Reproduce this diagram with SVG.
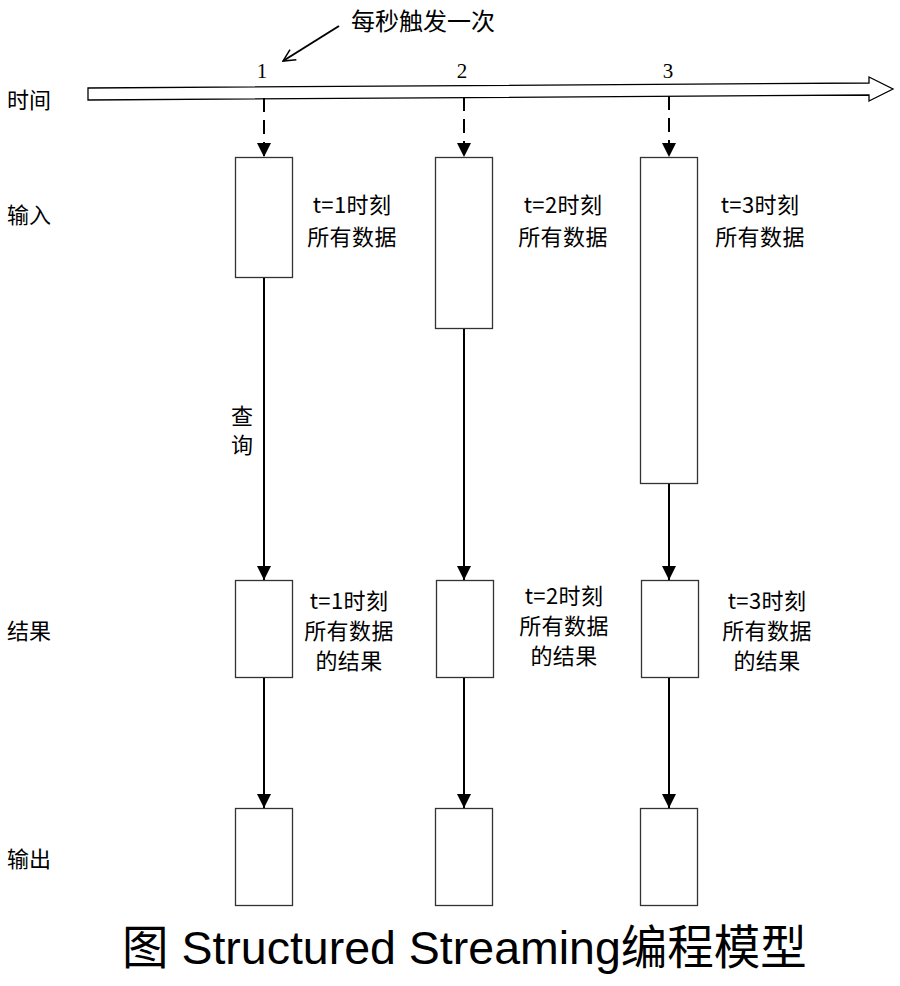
<svg xmlns="http://www.w3.org/2000/svg" width="900" height="986" viewBox="0 0 900 986">
  <defs>
    <style>
      .box { fill: #ffffff; stroke: #333333; stroke-width: 1.3; }
      .conn { stroke: #000000; stroke-width: 2; fill: none; }
      .dash { stroke-dasharray: 14 8; }
      .lbl { font-family: "Noto Sans CJK SC", "Liberation Sans", sans-serif; font-size: 22px; fill: #000000; }
      .desc { font-family: "Noto Sans CJK SC", "Liberation Sans", sans-serif; font-size: 22px; fill: #000000; text-anchor: middle; letter-spacing: 0.4px; }
      .num { font-family: "Liberation Serif", serif; font-size: 21px; fill: #000000; text-anchor: middle; }
      .serif { font-family: "Liberation Serif", "Noto Sans CJK SC", serif; font-size: 22px; fill: #000000; text-anchor: middle; }
      .cap { font-family: "Liberation Sans", "Noto Sans CJK SC", sans-serif; font-size: 46.5px; fill: #000000; }
    </style>
    <marker id="ah" markerUnits="userSpaceOnUse" markerWidth="14" markerHeight="14" refX="14" refY="7" orient="auto" viewBox="0 0 14 14">
      <path d="M0,0 L14,7 L0,14 z" fill="#000000"/>
    </marker>
    <marker id="open" markerUnits="userSpaceOnUse" markerWidth="14" markerHeight="14" refX="13" refY="7" orient="auto" viewBox="0 0 14 14">
      <path d="M1,1 L13,7 L1,13" fill="none" stroke="#000000" stroke-width="1.5"/>
    </marker>
  </defs>

  <rect x="0" y="0" width="900" height="986" fill="#ffffff"/>

  <!-- Row labels -->
  <g id="row-labels">
    <text class="lbl" x="7" y="108">时间</text>
    <text class="lbl" x="7" y="223">输入</text>
    <text class="lbl" x="7" y="639">结果</text>
    <text class="lbl" x="7" y="867">输出</text>
  </g>

  <!-- Timeline arrow -->
  <g id="timeline">
    <polygon points="88,88 869,83 869,77 893,89 869,101 869,95 88,100" fill="#ffffff" stroke="#000000" stroke-width="1.3" stroke-linejoin="miter"/>
    <text class="num" x="262" y="78">1</text>
    <text class="num" x="462" y="78">2</text>
    <text class="num" x="668" y="78">3</text>
  </g>

  <!-- Annotation -->
  <g id="annotation">
    <text class="lbl" x="351" y="30" style="font-size:24px">每秒触发一次</text>
  </g>

  <!-- Input nodes -->
  <g id="input-1">
    <rect class="box" x="235.5" y="157.5" width="57" height="120"/>
    <text class="desc" x="352" y="213">t=1时刻</text>
    <text class="desc" x="352" y="245">所有数据</text>
  </g>
  <g id="input-2">
    <rect class="box" x="435.5" y="157.5" width="57" height="171"/>
    <text class="desc" x="563" y="213">t=2时刻</text>
    <text class="desc" x="563" y="245">所有数据</text>
  </g>
  <g id="input-3">
    <rect class="box" x="640.5" y="157.5" width="57" height="326"/>
    <text class="desc" x="760" y="213">t=3时刻</text>
    <text class="desc" x="760" y="245">所有数据</text>
  </g>

  <!-- Result nodes -->
  <g id="result-1">
    <rect class="box" x="235.5" y="580.5" width="57" height="97"/>
    <text class="desc" x="349" y="609">t=1时刻</text>
    <text class="desc" x="349" y="639">所有数据</text>
    <text class="desc" x="349" y="669">的结果</text>
  </g>
  <g id="result-2">
    <rect class="box" x="436.5" y="580.5" width="57" height="97"/>
    <text class="desc" x="564" y="604">t=2时刻</text>
    <text class="desc" x="564" y="634">所有数据</text>
    <text class="desc" x="564" y="664">的结果</text>
  </g>
  <g id="result-3">
    <rect class="box" x="641.5" y="580.5" width="57" height="97"/>
    <text class="desc" x="767" y="609">t=3时刻</text>
    <text class="desc" x="767" y="639">所有数据</text>
    <text class="desc" x="767" y="669">的结果</text>
  </g>

  <!-- Output nodes -->
  <g id="output-1">
    <rect class="box" x="235.5" y="808.5" width="57" height="97"/>
  </g>
  <g id="output-2">
    <rect class="box" x="435.5" y="808.5" width="57" height="97"/>
  </g>
  <g id="output-3">
    <rect class="box" x="640.5" y="808.5" width="57" height="97"/>
  </g>

  <!-- Connectors -->
  <g id="connectors">
    <line class="conn" x1="339" y1="26" x2="283" y2="61" stroke-width="1.5" marker-end="url(#open)"/>

    <line class="conn dash" x1="264" y1="98" x2="264" y2="157" marker-end="url(#ah)"/>
    <line class="conn dash" x1="464" y1="97" x2="464" y2="157" marker-end="url(#ah)"/>
    <line class="conn dash" x1="669" y1="96" x2="669" y2="157" marker-end="url(#ah)"/>

    <line class="conn" x1="264" y1="278" x2="264" y2="580" marker-end="url(#ah)"/>
    <line class="conn" x1="464" y1="329" x2="464" y2="580" marker-end="url(#ah)"/>
    <line class="conn" x1="669" y1="484" x2="669" y2="580" marker-end="url(#ah)"/>

    <line class="conn" x1="264" y1="678" x2="264" y2="808" marker-end="url(#ah)"/>
    <line class="conn" x1="464" y1="678" x2="464" y2="808" marker-end="url(#ah)"/>
    <line class="conn" x1="669" y1="678" x2="669" y2="808" marker-end="url(#ah)"/>
  </g>

  <!-- Connector label -->
  <g id="query-label">
    <text class="serif" x="242" y="424">查</text>
    <text class="serif" x="242" y="453">询</text>
  </g>

  <!-- Caption -->
  <text class="cap" x="122" y="964">图 Structured Streaming编程模型</text>
</svg>
